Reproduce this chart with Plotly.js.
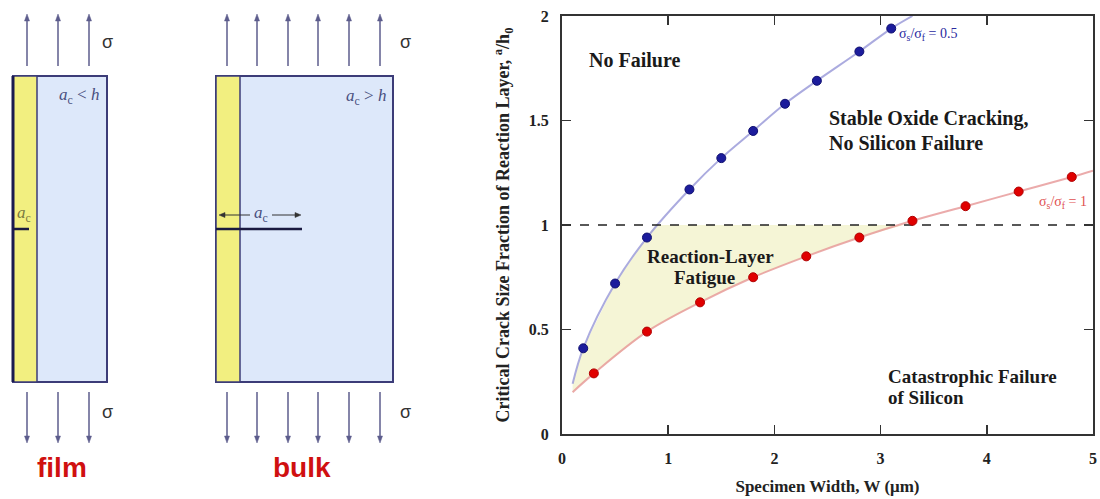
<!DOCTYPE html>
<html>
<head>
<meta charset="utf-8">
<script src="https://cdn.plot.ly/plotly-3.0.1.min.js"></script>
<style>html,body{margin:0;padding:0;background:#fff;}#chart{width:1100px;height:499px;}</style>
</head>
<body>
<div id="chart"></div>
<script>
// ---- data ----
const blueW = [0.2, 0.5, 0.8, 1.2, 1.5, 1.8, 2.1, 2.4, 2.8, 3.1];
const blueR = [0.41, 0.72, 0.94, 1.17, 1.32, 1.45, 1.58, 1.69, 1.83, 1.94];
const redW = [0.3, 0.8, 1.3, 1.8, 2.3, 2.8, 3.3, 3.8, 4.3, 4.8];
const redR = [0.29, 0.49, 0.63, 0.75, 0.85, 0.94, 1.02, 1.09, 1.16, 1.23];
// fitted curves (incl. end points)
const blueFitW = [0.1, 0.2, 0.5, 0.8, 1.2, 1.5, 1.8, 2.1, 2.4, 2.8, 3.1, 3.3];
const blueFitR = [0.24, 0.41, 0.72, 0.94, 1.17, 1.32, 1.45, 1.58, 1.69, 1.83, 1.94, 2.0];
const redFitW = [0.1, 0.3, 0.8, 1.3, 1.8, 2.3, 2.8, 3.3, 3.8, 4.3, 4.8, 5.0];
const redFitR = [0.2, 0.29, 0.49, 0.63, 0.75, 0.85, 0.94, 1.02, 1.09, 1.16, 1.23, 1.26];
// reaction-layer fatigue region outline
const fatigueW = [0.1, 0.2, 0.5, 0.8, 0.88, 3.22, 2.8, 2.3, 1.8, 1.3, 0.8, 0.3, 0.1];
const fatigueR = [0.24, 0.41, 0.72, 0.94, 1.0, 1.0, 0.94, 0.85, 0.75, 0.63, 0.49, 0.29, 0.2];
const limitW = [0, 5];
const limitR = [1, 1];
const xTicks = [0, 1, 2, 3, 4, 5];
const yTicks = [0, 0.5, 1, 1.5, 2];

// ---- layout helpers (pixel -> paper) ----
const W = 1100, H = 499, ML = 562, MR = 7, MT = 16, MB = 65;
const PW = W - ML - MR, PH = H - MT - MB;
const px = x => (x - ML) / PW;
const py = y => (H - MB - y) / PH;

const SERIF = 'Liberation Serif, Times New Roman, serif';
const SANS = 'Liberation Sans, Arial, sans-serif';

const traces = [
  {x: fatigueW, y: fatigueR, mode: 'lines', fill: 'toself', fillcolor: 'rgba(242,242,200,0.75)',
   line: {width: 0}, hoverinfo: 'skip', showlegend: false},
  {x: blueFitW, y: blueFitR, mode: 'lines', line: {color: 'rgba(150,150,215,0.8)', width: 2, shape: 'spline'}, showlegend: false},
  {x: redFitW, y: redFitR, mode: 'lines', line: {color: 'rgba(230,150,150,0.8)', width: 2, shape: 'spline'}, showlegend: false},
  {x: limitW, y: limitR, mode: 'lines', line: {color: '#222', width: 1.6, dash: 'dash'}, showlegend: false},
  {x: blueW, y: blueR, mode: 'markers', marker: {color: '#1c1c9c', size: 9, line: {color: '#101070', width: 1}}, showlegend: false},
  {x: redW, y: redR, mode: 'markers', marker: {color: '#e00000', size: 9, line: {color: '#b00000', width: 1}}, showlegend: false}
];

const shapes = [];
const annotations = [];
function rect(x0, y0, x1, y1, fill, lc, lw) {
  shapes.push({type: 'rect', xref: 'paper', yref: 'paper', x0: px(x0), x1: px(x1), y0: py(y0), y1: py(y1),
    fillcolor: fill, line: {color: lc, width: lw}});
}
function line(x0, y0, x1, y1, lc, lw) {
  shapes.push({type: 'line', xref: 'paper', yref: 'paper', x0: px(x0), x1: px(x1), y0: py(y0), y1: py(y1),
    line: {color: lc, width: lw}});
}
function arrow(xTip, yTip, xTail, yTail, col, w, headLen, headHalf) {
  const len = Math.hypot(xTip - xTail, yTip - yTail);
  const dx = (xTip - xTail) / len, dy = (yTip - yTail) / len;
  const bx = xTip - dx * headLen, by = yTip - dy * headLen;
  const nx = -dy, ny = dx;
  line(xTail, yTail, bx, by, col, w);
  const p = [[xTip, yTip], [bx + nx * headHalf, by + ny * headHalf], [bx - nx * headHalf, by - ny * headHalf]];
  const path = 'M ' + p.map(q => px(q[0]) + ',' + py(q[1])).join(' L ') + ' Z';
  shapes.push({type: 'path', xref: 'paper', yref: 'paper', path: path, fillcolor: col, line: {color: col, width: 0.5}});
}
function label(x, y, text, font, xanchor) {
  annotations.push({xref: 'paper', yref: 'paper', x: px(x), y: py(y), text: text, showarrow: false,
    xanchor: xanchor || 'center', yanchor: 'middle', font: font});
}

// film diagram
rect(13, 76, 107, 382, '#dde8fa', '#3c3c78', 2);
rect(13, 76, 37, 382, '#f2ef80', '#3c3c78', 1.5);
line(13, 76, 13, 382, '#1a1a50', 3);
line(13, 229, 29, 229, '#1a1a40', 2.5);
// bulk diagram
rect(216, 76, 393, 382, '#dde8fa', '#3c3c78', 2);
rect(216, 76, 240, 382, '#f2ef80', '#3c3c78', 1.5);
line(216, 229, 302, 229, '#1a1a40', 2.5);

const arrowCol = '#5c5c8c';
[27, 58, 89, 227, 257, 288, 318, 349, 380].forEach(x => {
  arrow(x, 14, x, 66, arrowCol, 1.5, 7, 2.5);
  arrow(x, 443, x, 392, arrowCol, 1.5, 7, 2.5);
});
// a_c dimension arrows (bulk)
arrow(219, 215, 250, 215, '#333', 1, 6, 2.5);
arrow(301, 215, 272, 215, '#333', 1, 6, 2.5);

const sig = {family: SANS, size: 18, color: '#333'};
label(107, 42, 'σ', sig, 'center');
label(107, 412, 'σ', sig, 'center');
label(405, 42, 'σ', sig, 'center');
label(405, 412, 'σ', sig, 'center');
label(101, 96, '<i>a</i><sub>c</sub> &lt; <i>h</i>', {family: SERIF, size: 17, color: '#4a5080'}, 'right');
label(388, 97, '<i>a</i><sub>c</sub> &gt; <i>h</i>', {family: SERIF, size: 17, color: '#4a5080'}, 'right');
label(24, 214, '<i>a</i><sub>c</sub>', {family: SERIF, size: 17, color: '#7a7a40'}, 'center');
label(261, 214, '<i>a</i><sub>c</sub>', {family: SERIF, size: 17, color: '#4a5080'}, 'center');
label(62, 467, '<b>film</b>', {family: SANS, size: 28, color: '#d01010'}, 'center');
label(302, 467, '<b>bulk</b>', {family: SANS, size: 28, color: '#d01010'}, 'center');

// chart region labels
const reg = {family: SERIF, size: 20, color: '#1a1a1a'};
const reg2 = {family: SERIF, size: 19, color: '#1a1a1a'};
label(587, 60, '<b>No Failure</b>', reg, 'left');
label(827, 118, '<b>Stable Oxide Cracking,</b>', reg, 'left');
label(827, 143, '<b>No Silicon Failure</b>', reg, 'left');
label(710, 256, '<b>Reaction-Layer</b>', reg2, 'center');
label(704, 277, '<b>Fatigue</b>', reg2, 'center');
label(886, 376, '<b>Catastrophic Failure</b>', reg2, 'left');
label(886, 397, '<b>of Silicon</b>', reg2, 'left');
label(897, 35, 'σ<sub>s</sub>/σ<sub>f</sub> = 0.5', {family: SERIF, size: 14, color: '#2a2aa0'}, 'left');
label(1037, 203, 'σ<sub>s</sub>/σ<sub>f</sub> = 1', {family: SERIF, size: 14, color: '#e05050'}, 'left');

const layout = {
  width: W, height: H,
  margin: {l: ML, r: MR, t: MT, b: MB},
  paper_bgcolor: '#ffffff', plot_bgcolor: '#ffffff',
  showlegend: false,
  xaxis: {
    range: [0, 5], tickvals: xTicks, ticks: 'inside', ticklen: 9, tickwidth: 1.5, tickcolor: '#333',
    showline: true, linecolor: '#333', linewidth: 2, mirror: 'ticks', showgrid: false, zeroline: false,
    tickfont: {family: SERIF, size: 16, color: '#222', weight: 'bold'}, ticklabelstandoff: 9,
    title: {text: '<b>Specimen Width, W (μm)</b>', font: {family: SERIF, size: 17, color: '#222'}, standoff: 14}
  },
  yaxis: {
    range: [0, 2], tickvals: yTicks, ticks: 'inside', ticklen: 9, tickwidth: 1.5, tickcolor: '#333',
    showline: true, linecolor: '#333', linewidth: 2, mirror: 'ticks', showgrid: false, zeroline: false,
    tickfont: {family: SERIF, size: 16, color: '#222', weight: 'bold'}, ticklabelstandoff: 8,
    title: {text: '<b>Critical Crack Size Fraction of Reaction Layer, <sup>a</sup>/h<sub>0</sub></b>', font: {family: SERIF, size: 18, color: '#222'}, standoff: 14}
  },
  shapes: shapes,
  annotations: annotations
};

Plotly.newPlot('chart', traces, layout, {displayModeBar: false, staticPlot: true});
</script>
</body>
</html>
